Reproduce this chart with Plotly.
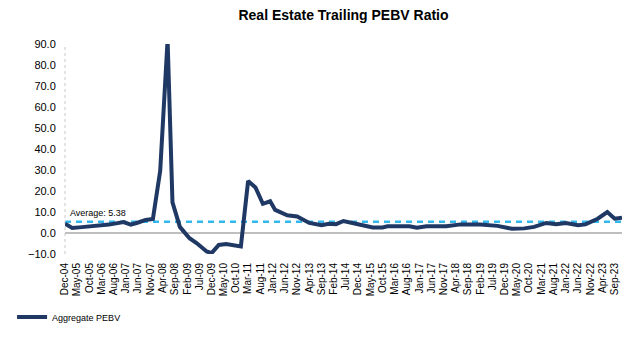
import plotly.graph_objects as go

# Data (month, Aggregate PEBV)
dates = [
    "2004-12-01", "2005-03-01", "2005-07-01", "2005-10-01", "2006-02-01",
    "2006-06-01", "2006-12-01", "2007-03-01", "2007-06-01", "2007-09-01",
    "2007-12-01", "2008-03-01", "2008-06-01", "2008-08-01", "2008-11-01",
    "2009-03-01", "2009-06-01", "2009-10-01", "2009-12-01", "2010-03-01",
    "2010-06-01", "2010-11-01", "2010-12-01", "2011-03-01", "2011-06-01",
    "2011-09-01", "2011-12-01", "2012-02-01", "2012-07-01", "2012-11-01",
    "2013-04-01", "2013-09-01", "2013-12-01", "2014-03-01", "2014-06-01",
    "2014-11-01", "2015-06-01", "2015-10-01", "2015-12-01", "2016-09-01",
    "2016-12-01", "2017-04-01", "2017-12-01", "2018-06-01", "2019-02-01",
    "2019-09-01", "2020-03-01", "2020-08-01", "2020-12-01", "2021-05-01",
    "2021-09-01", "2022-01-01", "2022-06-01", "2022-09-01", "2023-02-01",
    "2023-06-01", "2023-09-01", "2023-12-01",
]
pebv = [
    4.4, 2.4, 2.8, 3.0, 3.7,
    4.0, 5.2, 4.0, 5.0, 6.2,
    6.7, 29.6, 92.0, 14.6, 2.9,
    -2.5, -4.9, -8.8, -9.6, -5.7,
    -5.2, -6.4, -6.4, 24.8, 21.7,
    13.9, 15.1, 11.0, 8.4, 7.9,
    4.8, 3.7, 4.4, 4.2, 5.7,
    4.4, 2.6, 2.6, 3.2, 3.2,
    2.5, 3.2, 3.2, 4.1, 4.1,
    3.4, 2.0, 2.2, 2.9, 4.8,
    4.2, 4.8, 3.7, 4.1, 6.8,
    10.0, 6.8, 7.3,
]
average = 5.38
series_name = "Aggregate PEBV"
title = "Real Estate Trailing PEBV Ratio"

font = "Liberation Sans, Arial, sans-serif"

fig = go.Figure()
fig.add_trace(go.Scatter(
    x=dates, y=pebv, mode="lines", name=series_name,
    line=dict(color="#203864", width=4),
))

# Average dashed line
fig.add_shape(type="line", xref="paper", yref="y", x0=0, x1=1, y0=average, y1=average,
              line=dict(color="#33B8EE", width=2.5, dash="6px,5px"), layer="below")
fig.add_annotation(xref="paper", yref="y", x=0.005, y=average, yshift=2,
                   text=f"Average: {average:.2f}", showarrow=False,
                   xanchor="left", yanchor="bottom",
                   font=dict(family=font, size=9, color="#000000"))
# dotted y axis line
fig.add_shape(type="line", xref="paper", yref="paper", x0=0, x1=0, y0=0, y1=1,
              line=dict(color="#C8C8C8", width=1, dash="dot"), layer="below")

fig.update_layout(
    width=630, height=339,
    margin=dict(l=65, r=8, t=44, b=81),
    paper_bgcolor="white", plot_bgcolor="white",
    title=dict(text=f"<b>{title}</b>", x=0.5, xref="paper", xanchor="center",
               y=0.955, yanchor="middle",
               font=dict(family=font, size=14, color="#000000")),
    showlegend=True,
    legend=dict(orientation="h", x=-0.095, xanchor="left", y=-0.30, yanchor="middle",
                font=dict(family=font, size=9, color="#000000"),
                bgcolor="rgba(0,0,0,0)", itemwidth=30),
    font=dict(family=font, color="#000000"),
)
fig.update_xaxes(
    type="date", range=["2004-12-01", "2023-12-01"],
    tick0="2004-12-01", dtick="M5", tickformat="%b-%y",
    tickangle=-90, tickfont=dict(family=font, size=10, color="#000000"),
    showgrid=False, showline=False, zeroline=False,
    ticks="outside", ticklen=4, tickcolor="rgba(0,0,0,0)",
)
fig.update_yaxes(
    range=[-10, 90], dtick=10, tickformat=".1f",
    tickfont=dict(family=font, size=11, color="#000000"),
    showgrid=False, showline=False,
    ticks="outside", ticklen=6, tickcolor="rgba(0,0,0,0)",
    zeroline=True, zerolinecolor="#BFBFBF", zerolinewidth=1.5,
)

fig.write_html("out.html")
